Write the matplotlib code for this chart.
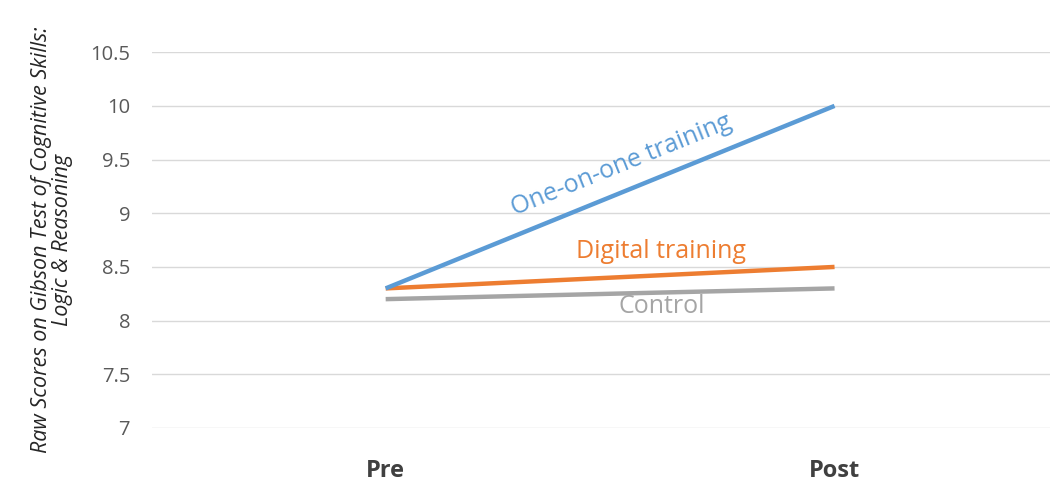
import matplotlib
matplotlib.use("Agg")
import matplotlib.pyplot as plt

categories = ["Pre", "Post"]
one_on_one = [8.3, 10.0]
digital = [8.3, 8.5]
control = [8.2, 8.3]
yticks = [7, 7.5, 8, 8.5, 9, 9.5, 10, 10.5]
ytick_labels = ["7", "7.5", "8", "8.5", "9", "9.5", "10", "10.5"]

plt.rcParams['font.family'] = ['Open Sans', 'DejaVu Sans']

fig = plt.figure(figsize=(10.5, 4.88), dpi=100)
ax = fig.add_axes([0.145, 0.123, 0.855, 0.770])

x = list(range(len(categories)))
blue = "#5B9BD5"
orange = "#ED7D31"
grey = "#A5A5A5"

ax.plot(x, control, color=grey, lw=3.2, solid_capstyle='butt', zorder=3)
ax.plot(x, digital, color=orange, lw=3.2, solid_capstyle='butt', zorder=4)
ax.plot(x, one_on_one, color=blue, lw=3.2, solid_capstyle='butt', zorder=5)

ax.set_xlim(-0.52, 1.48)
ax.set_ylim(7, 10.5)
ax.set_yticks(yticks)
ax.set_yticklabels(ytick_labels, fontsize=14.5, color="#595959")
ax.set_xticks(x)
ax.set_xticklabels(categories, fontsize=17, fontweight='bold', color="#404040")
ax.tick_params(axis='both', length=0)
ax.tick_params(axis='y', pad=16)
ax.tick_params(axis='x', pad=22)
ax.yaxis.grid(True, color="#D9D9D9", lw=1)
ax.set_axisbelow(True)
for s in ax.spines.values():
    s.set_visible(False)
ax.set_ylabel("Raw Scores on Gibson Test of Cognitive Skills:\nLogic & Reasoning",
              fontsize=15.5, style='italic', color="#262626", linespacing=1.0)
ax.yaxis.set_label_coords(-0.088, 0.5)

ax.text(0.525, 9.45, "One-on-one training", color=blue, fontsize=18,
        rotation=22, ha='center', va='center', rotation_mode='anchor')
ax.text(0.614, 8.64, "Digital training", color=orange, fontsize=18,
        ha='center', va='center')
ax.text(0.614, 8.13, "Control", color=grey, fontsize=18,
        ha='center', va='center')

fig.savefig("out.png", dpi=100)
